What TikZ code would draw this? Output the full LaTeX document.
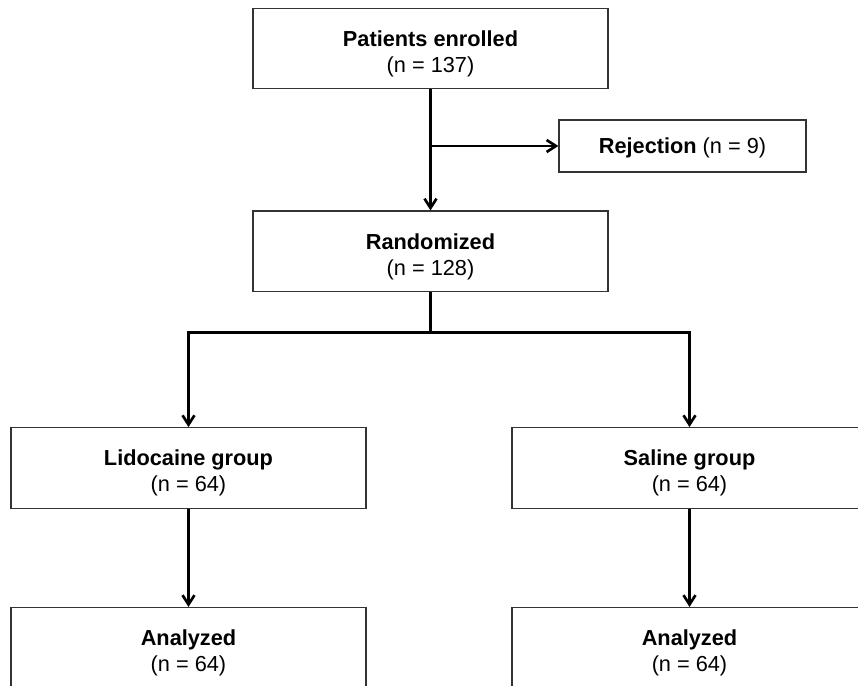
\documentclass[tikz,border=0pt]{standalone}
\usepackage{fontspec}
\setmainfont{Liberation Sans}
\usetikzlibrary{positioning,arrows.meta}

\begin{document}
\begin{tikzpicture}[x=0.75pt,y=-0.75pt,
	base/.style={draw=black!80,line width=0.9pt,minimum width=266.25pt,minimum height=60.5pt,
		align=center,inner sep=0pt,font=\fontsize{16.3}{19.5}\selectfont},
	box/.style={base,text height=38.9pt,text depth=3.4pt},
	smallbox/.style={base,minimum width=185.25pt,minimum height=39pt,text height=14pt,text depth=3.4pt},
	arrow/.style={line width=2pt,-{Straight Barb[length=7pt,width=9pt]}},
	link/.style={line width=2pt}]
	%\draw[help lines] (0,0) grid (858,686);
	\useasboundingbox (0,0) rectangle (858,686);
	
	\node[box] (enrolled) at (430.5,48.5) {\textbf{Patients enrolled}\\(n = 137)};
	\node[box,below=90.75pt of enrolled] (randomized) {\textbf{Randomized}\\(n = 128)};
	\node[smallbox] (rejection) at (682.5,146) {\textbf{Rejection} (n = 9)};
	\node[box] (lidocaine) at (188.5,468) {\textbf{Lidocaine group}\\(n = 64)};
	\node[box] (saline) at (689.5,468) {\textbf{Saline group}\\(n = 64)};
	\node[box,below=73.5pt of lidocaine] (analyzedL) {\textbf{Analyzed}\\(n = 64)};
	\node[box,below=73.5pt of saline] (analyzedR) {\textbf{Analyzed}\\(n = 64)};
	
	\draw[arrow] (enrolled) -- (randomized);
	\draw[arrow] (enrolled.south |- rejection.west) -- (rejection);
	\draw[link] (randomized.south) -- ++(0,40) coordinate (split);
	\draw[arrow] (split) -| (lidocaine);
	\draw[arrow] (split) -| (saline);
	\draw[arrow] (lidocaine) -- (analyzedL);
	\draw[arrow] (saline) -- (analyzedR);
\end{tikzpicture}
\end{document}
